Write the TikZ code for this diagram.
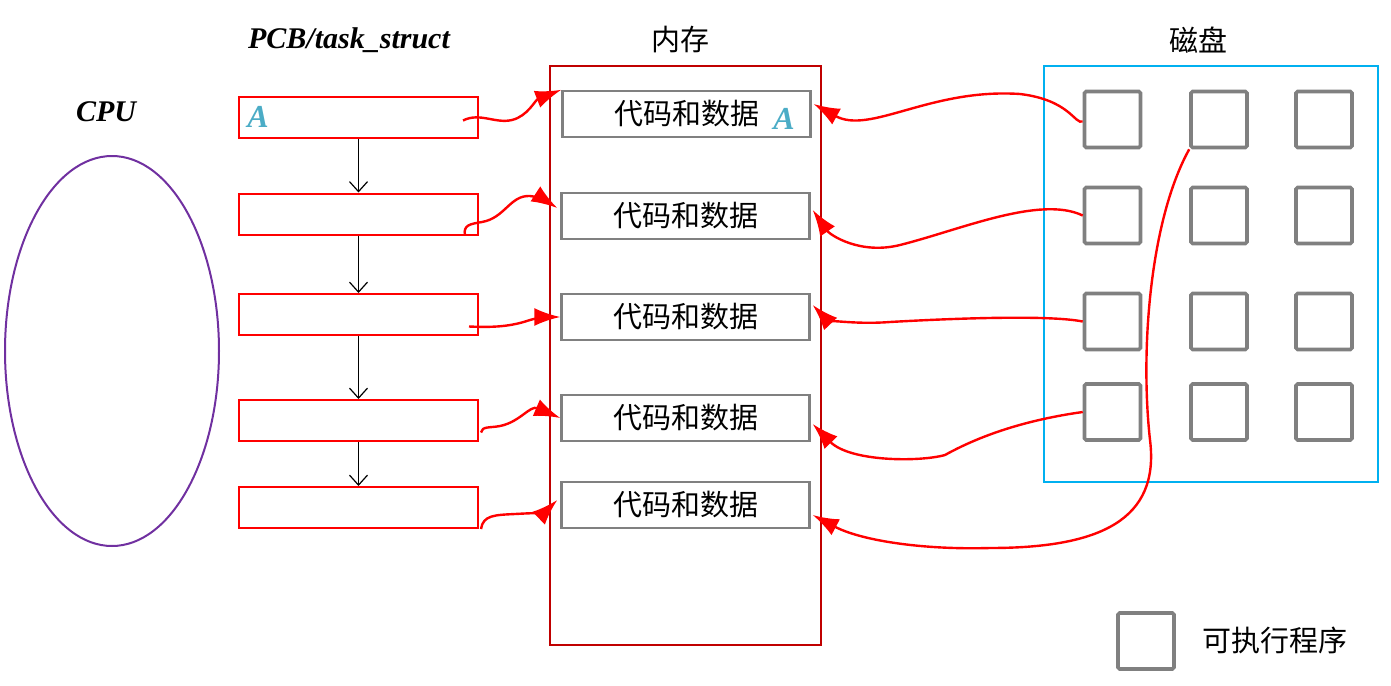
\documentclass[tikz,border=0pt]{standalone}
\usepackage{fontspec}
\setmainfont{Liberation Serif}
\newfontfamily\cjk{Noto Sans CJK SC}
\usepackage{xcolor}
\usepackage{tikz}
\usetikzlibrary{arrows.meta,positioning,calc,shapes.geometric}
\definecolor{memred}{RGB}{192,0,0}
\definecolor{diskcyan}{RGB}{0,176,240}
\definecolor{cpupurple}{RGB}{112,48,160}
\definecolor{letterteal}{RGB}{75,172,198}
\begin{document}
\begin{tikzpicture}[x=0.5pt,y=-0.5pt,
    pcbbox/.style={draw=red,line width=1pt,minimum width=119.5pt,
      minimum height=20.5pt,inner sep=0pt},
    membox/.style={draw=gray,line width=1.2pt,minimum width=124pt,
      minimum height=23pt,inner sep=0pt,
      font=\cjk\fontsize{14.5}{16}\selectfont},
    exebox/.style={draw=gray,line width=1.8pt,minimum size=28pt,
      rounded corners=0.8pt,inner sep=0pt},
    redlink/.style={red,line width=1.2pt,-{Latex[length=13pt,width=9pt]}},
    chainarrow/.style={black,line width=0.6pt,-{Straight Barb[length=5pt,width=9pt]}},
    titletext/.style={font=\fontsize{15}{18}\selectfont\bfseries\itshape},
    cjktext/.style={font=\cjk\fontsize{14.5}{16}\selectfont},
    letterA/.style={letterteal,font=\fontsize{16}{18}\selectfont\bfseries\itshape}]
  \useasboundingbox (0,0) rectangle (1391,685);
  % ---- titles ----
  \node[titletext] (cputitle) at (106,112) {CPU};
  \node[titletext] (pcbtitle) at (349,40) {PCB/task\_struct};
  \node[cjktext] (memtitle) at (680,40) {内存};
  \node[cjktext] (disktitle) at (1198,40) {磁盘};
  % ---- CPU ----
  \node[draw=cpupurple,line width=1pt,ellipse,minimum width=107pt,
    minimum height=195pt,inner sep=0pt] (cpu) at (112,351) {};
  % ---- PCB chain ----
  \foreach \n/\y in {1/117.5,2/214,3/314.5,4/420.5,5/507.5}
    \node[pcbbox] (p\n) at (358.5,\y) {};
  \node[letterA] (pA) at (258,117) {A};
  \foreach \a/\b in {p1/p2,p2/p3,p3/p4,p4/p5}
    \draw[chainarrow] (\a.south) -- (\b.north);
  % ---- memory ----
  \node[draw=memred,line width=1pt,minimum width=135.5pt,
    minimum height=289.5pt,inner sep=0pt] (mem) at (685.5,355.5) {};
  \node[membox] (m1) at (686.5,114) {代码和数据};
  \foreach \n/\y in {2/216,3/317,4/418,5/505}
    \node[membox] (m\n) at (685.5,\y) {代码和数据};
  \node[letterA] (mA) at (784,119) {A};
  % ---- disk ----
  \node[draw=diskcyan,line width=1pt,minimum width=167pt,
    minimum height=208pt,inner sep=0pt] (disk) at (1211,274) {};
  \foreach \r/\y in {1/119.5,2/215.5,3/321.5,4/412}
    \foreach \c/\x in {1/1112.5,2/1219,3/1324}
      \node[exebox] (d\r\c) at (\x,\y) {};
  % ---- legend ----
  \node[exebox] (legbox) at (1146,641) {};
  \node[cjktext] (legtext) at (1275,640) {可执行程序};
  % ---- PCB -> memory ----
  \draw[redlink] ($(p1.east)+(-16,3)$) .. controls (480,112) and (495,124) .. (512,120)
    .. controls (528,116) and (535,100) .. (m1.north west);
  \draw[redlink] ($(p2.south east)+(-14,0)$) .. controls (463,225) and (470,224) .. (482,222)
    .. controls (505,218) and (510,195) .. (530,196)
    .. controls (540,197) and (548,202) .. ($(m2.west)+(-3,-8)$);
  \draw[redlink] ($(p3.east)+(-10,12)$) .. controls (500,328) and (515,325) .. (530,320)
    .. controls (540,317) and (550,317) .. (m3.west);
  \draw[redlink] ($(p4.east)+(2,12)$) .. controls (482,426) and (490,428) .. (500,426)
    .. controls (520,422) and (530,405) .. (m4.west);
  \draw[redlink] ($(p5.south east)+(2,0)$) .. controls (483,515) and (495,515) .. (515,514)
    .. controls (535,513) and (545,512) .. ($(m5.west)+(-3,-5)$);
  % ---- disk -> memory ----
  \draw[redlink] ($(d11.west)+(0,2)$) .. controls (1075,125) and (1070,100) .. (1020,94)
    .. controls (930,88) and (870,135) .. ($(m1.east)+(2,-10)$);
  \draw[redlink] (d21.west) .. controls (1040,195) and (960,230) .. (900,245)
    .. controls (860,255) and (830,235) .. ($(m2.east)+(2,-6)$);
  \draw[redlink] (d31.west) .. controls (1050,315) and (960,318) .. (890,322)
    .. controls (850,325) and (825,318) .. ($(m3.east)+(2,-12)$);
  \draw[redlink] (d41.west) .. controls (1040,418) and (990,430) .. (945,455)
    .. controls (920,462) and (850,462) .. ($(m4.east)+(2,6)$);
  \draw[redlink] (d12.south west) .. controls (1150,220) and (1140,350) .. (1150,440)
    .. controls (1160,520) and (1100,548) .. (990,548)
    .. controls (920,550) and (860,540) .. ($(m5.east)+(2,10)$);
\end{tikzpicture}
\end{document}
